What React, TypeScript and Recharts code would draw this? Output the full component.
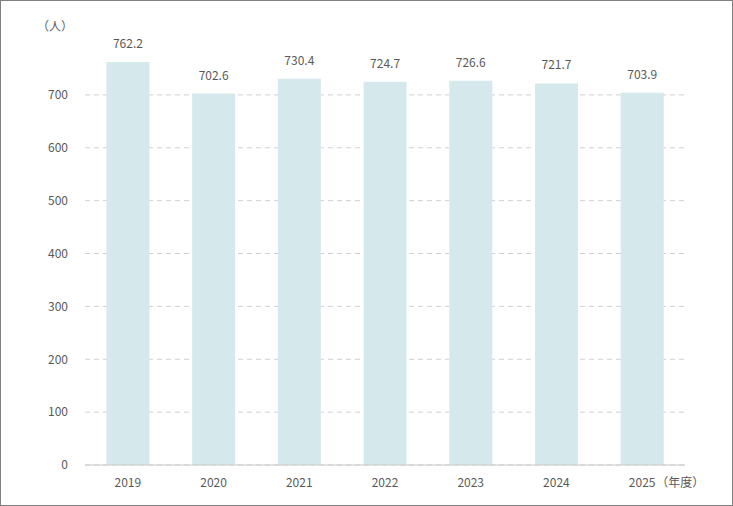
import React from "react";
import { BarChart, Bar, XAxis, YAxis, CartesianGrid, LabelList } from "recharts";

const years = ["2019", "2020", "2021", "2022", "2023", "2024", "2025"];
const values = [762.2, 702.6, 730.4, 724.7, 726.6, 721.7, 703.9];
const yTicks = [0, 100, 200, 300, 400, 500, 600, 700];

const data = years.map((y, i) => ({ year: y, value: values[i] }));
const FONT = "'Noto Sans CJK JP', 'Noto Sans', sans-serif";

const XTick = (props: any) => {
  const { x, y, payload } = props;
  const last = payload.value === years[years.length - 1];
  return (
    <g>
      <text x={x} y={y + 14} textAnchor="middle" fill="#595959" fontSize={12} fontFamily={FONT}>
        {payload.value}
      </text>
      {last && (
        <text x={x + 14} y={y + 14} textAnchor="start" fill="#595959" fontSize={12} fontFamily={FONT}>
          （年度）
        </text>
      )}
    </g>
  );
};

export default function App() {
  return (
    <div
      style={{
        position: "absolute",
        left: 0,
        top: 0,
        width: 733,
        height: 506,
        boxSizing: "border-box",
        border: "1px solid #808080",
        background: "#fff",
      }}
    >
      <div
        style={{
          position: "absolute",
          left: 36,
          top: 16,
          fontSize: 12,
          color: "#595959",
          fontFamily: FONT,
        }}
      >
        （人）
      </div>
      <div style={{ position: "absolute", left: -1, top: -1 }}>
        <BarChart
          width={733}
          height={506}
          data={data}
          margin={{ top: 42, right: 48, bottom: 11, left: 0 }}
          barCategoryGap="25%"
        >
          <CartesianGrid
            vertical={false}
            stroke="#d0d0d0"
            strokeDasharray="5 4"
            horizontalValues={yTicks}
          />
          <XAxis
            dataKey="year"
            tickLine={false}
            axisLine={{ stroke: "#c8c8c8" }}
            tick={<XTick />}
            height={30}
            interval={0}
          />
          <YAxis
            width={85}
            domain={[0, 800]}
            ticks={yTicks}
            tickLine={false}
            axisLine={false}
            tickSize={0}
            tickMargin={17}
            tick={{ fill: "#595959", fontSize: 12, fontFamily: FONT }}
          />
          <Bar dataKey="value" fill="#d5e9ec" isAnimationActive={false}>
            <LabelList
              dataKey="value"
              position="top"
              offset={14}
              fill="#595959"
              fontSize={12}
              fontFamily={FONT}
              formatter={(v: any) => Number(v).toFixed(1)}
            />
          </Bar>
        </BarChart>
      </div>
    </div>
  );
}
